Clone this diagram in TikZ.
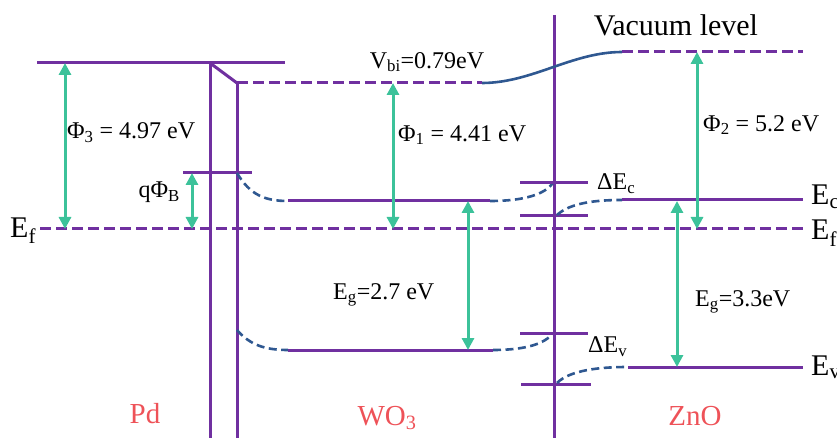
\documentclass[tikz,border=0pt]{standalone}
\usepackage{fontspec}
\setmainfont{Liberation Serif}
\usetikzlibrary{arrows.meta}

\definecolor{bandpurple}{RGB}{112,48,160}
\definecolor{bendblue}{RGB}{47,88,145}
\definecolor{gapteal}{RGB}{60,194,154}
\definecolor{matred}{RGB}{238,82,88}

\begin{document}
\begin{tikzpicture}[x=1pt, y=-1pt,
	lvl/.style={bandpurple, line width=3pt},
	lvldash/.style={bandpurple, line width=3pt, dash pattern=on 11pt off 5pt},
	bendcurve/.style={bendblue, line width=2.6pt, dash pattern=on 8pt off 4.5pt},
	gaparrow/.style={gapteal, line width=3pt, {Triangle[length=12pt,width=12pt]}-{Triangle[length=12pt,width=12pt]}},
	lbl/.style={font=\fontsize{24}{28}\selectfont, inner sep=0pt},
	biglbl/.style={font=\fontsize{30}{34}\selectfont, inner sep=0pt},
	matlbl/.style={matred, font=\fontsize{29}{33}\selectfont, inner sep=0pt}]
	\useasboundingbox (0,0) rectangle (837,438);
	% interfaces
	\draw[lvl] (210,63) -- (210,438);
	\draw[lvl] (237,83) -- (237,438);
	\draw[lvl] (554,15) -- (554,438);
	% Pd
	\draw[lvl] (37,63) -- (285,63);
	\draw[lvl] (210,63) -- (237,83);
	\draw[lvl] (183,173) -- (252,173);
	% vacuum level
	\draw[lvldash] (237,83) -- (482,83);
	\draw[bendblue, line width=2.6pt] (482,83) .. controls (532,83) and (572,52) .. (622,52);
	\draw[lvldash] (622,52) -- (803,52);
	% Fermi level
	\draw[lvldash] (40,229) -- (803,229);
	% conduction band
	\draw[bendcurve] (237,173) .. controls (250,195) and (265,201) .. (288,201);
	\draw[lvl] (288,201) -- (490,201);
	\draw[bendcurve] (490,201) .. controls (525,201) and (545,194) .. (553,183);
	\draw[lvl] (520,183) -- (588,183);
	\draw[lvl] (520,216) -- (588,216);
	\draw[bendcurve] (557,215) .. controls (570,203) and (595,200) .. (622,200);
	\draw[lvl] (622,200) -- (803,200);
	% valence band
	\draw[bendcurve] (237,330) .. controls (250,345) and (265,350) .. (288,350);
	\draw[lvl] (288,350) -- (493,350);
	\draw[bendcurve] (493,350) .. controls (525,350) and (545,344) .. (553,333);
	\draw[lvl] (520,333) -- (588,333);
	\draw[lvl] (521,384) -- (591,384);
	\draw[bendcurve] (557,383) .. controls (570,370) and (600,367) .. (628,367);
	\draw[lvl] (628,367) -- (803,367);
	% gaps
	\coordinate (phiThreeTop) at (65,63);   \coordinate (phiThreeBot) at (65,229);
	\coordinate (barTop) at (192,173);      \coordinate (barBot) at (192,229);
	\coordinate (phiOneTop) at (393,83);    \coordinate (phiOneBot) at (393,229);
	\coordinate (egWTop) at (468,201);      \coordinate (egWBot) at (468,350);
	\coordinate (phiTwoTop) at (697,52);    \coordinate (phiTwoBot) at (697,229);
	\coordinate (egZTop) at (677,201);      \coordinate (egZBot) at (677,367);
	\foreach \a/\b in {phiThreeTop/phiThreeBot, barTop/barBot, phiOneTop/phiOneBot, egWTop/egWBot, phiTwoTop/phiTwoBot, egZTop/egZBot}
		\draw[gaparrow] (\a) -- (\b);
	% labels
	\node[biglbl] (vac) at (676,25) {Vacuum level};
	\node[lbl] (vbi) at (427,62) {V\textsubscript{bi}=0.79eV};
	\node[lbl, anchor=west] (phiThree) at (67,133) {Φ\textsubscript{3} = 4.97 eV};
	\node[lbl, anchor=east] (barrier) at (180,192) {qΦ\textsubscript{B}};
	\node[lbl, anchor=west] (phiOne) at (398,135) {Φ\textsubscript{1} = 4.41 eV};
	\node[lbl, anchor=west] (phiTwo) at (703,125) {Φ\textsubscript{2} = 5.2 eV};
	\node[lbl, anchor=west] (egW) at (333,295) {E\textsubscript{g}=2.7 eV};
	\node[lbl, anchor=west] (egZ) at (695,302) {E\textsubscript{g}=3.3eV};
	\node[lbl, anchor=west] (dEc) at (597,184) {ΔE\textsubscript{c}};
	\node[lbl, anchor=west] (dEv) at (588,347) {ΔE\textsubscript{v}};
	\node[biglbl, anchor=base west] (efL) at (10,237) {E\textsubscript{f}};
	\node[biglbl, anchor=base west] (ecR) at (811,205) {E\textsubscript{c}};
	\node[biglbl, anchor=base west] (efR) at (811,240) {E\textsubscript{f}};
	\node[biglbl, anchor=base west] (evR) at (811,375) {E\textsubscript{v}};
	\node[matlbl] (pd) at (145,414) {Pd};
	\node[matlbl] (wo) at (387,418) {WO\textsubscript{3}};
	\node[matlbl] (zno) at (695,416) {ZnO};
\end{tikzpicture}
\end{document}
